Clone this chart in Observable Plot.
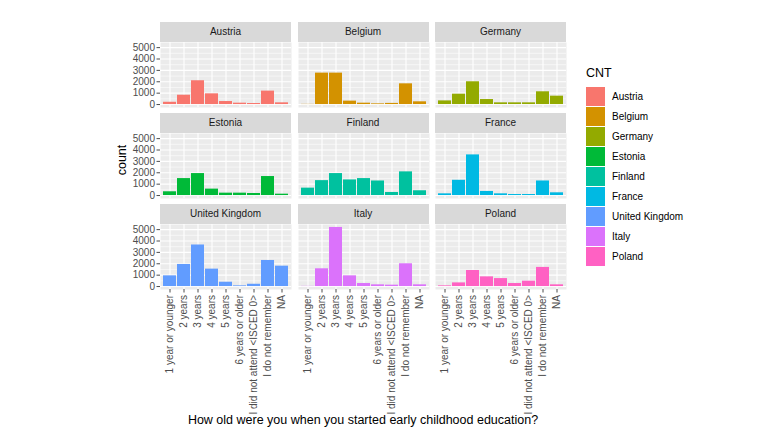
<!DOCTYPE html>
<html>
<head>
<meta charset="utf-8">
<script src="https://cdn.jsdelivr.net/npm/d3@7"></script>
<script src="https://cdn.jsdelivr.net/npm/@observablehq/plot@0.6"></script>
<style>
body { margin: 0; background: #fff; }
#chart { position: relative; width: 780px; height: 440px; background: #fff; overflow: hidden;
  font-family: "Liberation Sans", Arial, sans-serif; }
.panel { position: absolute; }
.strip { position: absolute; background: #d9d9d9; color: #1a1a1a; font-size: 10px;
  text-align: center; line-height: 20px; height: 20px; }
.ylab { position: absolute; font-size: 12.5px; color: #000; transform: rotate(-90deg); transform-origin: center; white-space: nowrap; }
.xlab { position: absolute; font-size: 12.5px; color: #000; white-space: nowrap; transform: translate(-50%, -50%); }
.legend { position: absolute; left: 586px; top: 64px; }
.legend .ttl { font-size: 12.5px; color: #000; height: 22px; line-height: 18px; }
.legend .item { display: flex; align-items: center; height: 20px; }
.legend .key { width: 19px; height: 19px; margin-right: 7px; }
.legend .lbl { font-size: 10px; color: #000; }
</style>
</head>
<body>
<div id="chart"></div>
<script>
// ---- data ----
const categories = ["1 year or younger", "2 years", "3 years", "4 years", "5 years",
  "6 years or older", "I did not attend <ISCED 0>", "I do not remember", "NA"];
const countries = ["Austria", "Belgium", "Germany", "Estonia", "Finland", "France",
  "United Kingdom", "Italy", "Poland"];
const countryColors = ["#F8766D", "#D39200", "#93AA00", "#00BA38", "#00C19F",
  "#00B9E3", "#619CFF", "#DB72FB", "#FF61C3"];
const austria = [200, 820, 2090, 940, 265, 120, 90, 1180, 150];
const belgium = [15, 2760, 2760, 300, 120, 60, 100, 1820, 240];
const germany = [320, 910, 2000, 440, 150, 150, 150, 1120, 735];
const estonia = [330, 1490, 1930, 565, 210, 210, 180, 1670, 120];
const finland = [650, 1310, 1930, 1370, 1490, 1280, 270, 2080, 420];
const france = [150, 1340, 3570, 360, 150, 90, 90, 1280, 240];
const unitedKingdom = [940, 1940, 3650, 1530, 380, 60, 200, 2290, 1790];
const italy = [15, 1560, 5190, 940, 265, 150, 120, 2000, 150];
const poland = [60, 320, 1410, 850, 700, 265, 470, 1680, 150];
const seriesValues = [austria, belgium, germany, estonia, finland, france, unitedKingdom, italy, poland];
const yTicks = [0, 1000, 2000, 3000, 4000, 5000];
const yMinorTicks = [500, 1500, 2500, 3500, 4500];
const yTitle = "count";
const xTitle = "How old were you when you started early childhood education?";
const legendTitle = "CNT";

// ---- layout ----
const chart = document.getElementById("chart");
const W = 131, H = 65, stripH = 20;
const colLeft = [160, 297.5, 435];
const stripTop = [22, 113, 204];
const yMax = d3.max(seriesValues.flat());
const yDomain = [-0.05 * yMax, 1.05 * yMax];

countries.forEach((country, i) => {
  const r = Math.floor(i / 3), c = i % 3;
  const ml = c === 0 ? 40 : 0;
  const mb = r === 2 ? 130 : 0;
  const data = categories.map((cat, j) => ({cat, value: seriesValues[i][j]}));
  const plot = Plot.plot({
    width: ml + W, height: H + mb,
    marginLeft: ml, marginRight: 0, marginTop: 0, marginBottom: mb,
    style: {background: "transparent", fontFamily: '"Liberation Sans", Arial, sans-serif', fontSize: "10px", overflow: "visible"},
    x: {type: "band", domain: categories, paddingInner: 0.1, paddingOuter: 0.15, axis: null},
    y: {domain: yDomain, axis: null},
    marks: [
      Plot.frame({fill: "#ebebeb", stroke: "none"}),
      Plot.gridY({ticks: yMinorTicks, stroke: "#fff", strokeOpacity: 1, strokeWidth: 0.55}),
      Plot.gridY({ticks: yTicks, stroke: "#fff", strokeOpacity: 1, strokeWidth: 1.1}),
      Plot.gridX({stroke: "#fff", strokeOpacity: 1, strokeWidth: 1.1}),
      Plot.barY(data, {x: "cat", y: "value", fill: countryColors[i]}),
      c === 0 ? Plot.axisY({ticks: yTicks, tickFormat: d => String(d), tickSize: 3.5, tickPadding: 2,
        fontSize: 10, color: "#4d4d4d", label: null}) : null,
      r === 2 ? Plot.axisX({tickRotate: -90, tickSize: 3.5, tickPadding: 2, fontSize: 10,
        color: "#4d4d4d", textAnchor: "end", label: null}) : null
    ]
  });
  plot.classList.add("panel");
  plot.style.left = (colLeft[c] - ml) + "px";
  plot.style.top = (stripTop[r] + stripH) + "px";
  chart.appendChild(plot);

  const strip = document.createElement("div");
  strip.className = "strip";
  strip.style.left = colLeft[c] + "px";
  strip.style.top = stripTop[r] + "px";
  strip.style.width = W + "px";
  strip.textContent = country;
  chart.appendChild(strip);
});

// y title
const yl = document.createElement("div");
yl.className = "ylab";
yl.textContent = yTitle;
chart.appendChild(yl);
yl.style.left = (122 - yl.offsetWidth / 2) + "px";
yl.style.top = (160 - yl.offsetHeight / 2) + "px";

// x title
const xl = document.createElement("div");
xl.className = "xlab";
xl.textContent = xTitle;
xl.style.left = "363px";
xl.style.top = "420px";
chart.appendChild(xl);

// legend
const lg = document.createElement("div");
lg.className = "legend";
const t = document.createElement("div");
t.className = "ttl";
t.textContent = legendTitle;
lg.appendChild(t);
countries.forEach((country, i) => {
  const it = document.createElement("div");
  it.className = "item";
  const k = document.createElement("div");
  k.className = "key";
  k.style.background = countryColors[i];
  const l = document.createElement("span");
  l.className = "lbl";
  l.textContent = country;
  it.appendChild(k); it.appendChild(l);
  lg.appendChild(it);
});
chart.appendChild(lg);
</script>
</body>
</html>
